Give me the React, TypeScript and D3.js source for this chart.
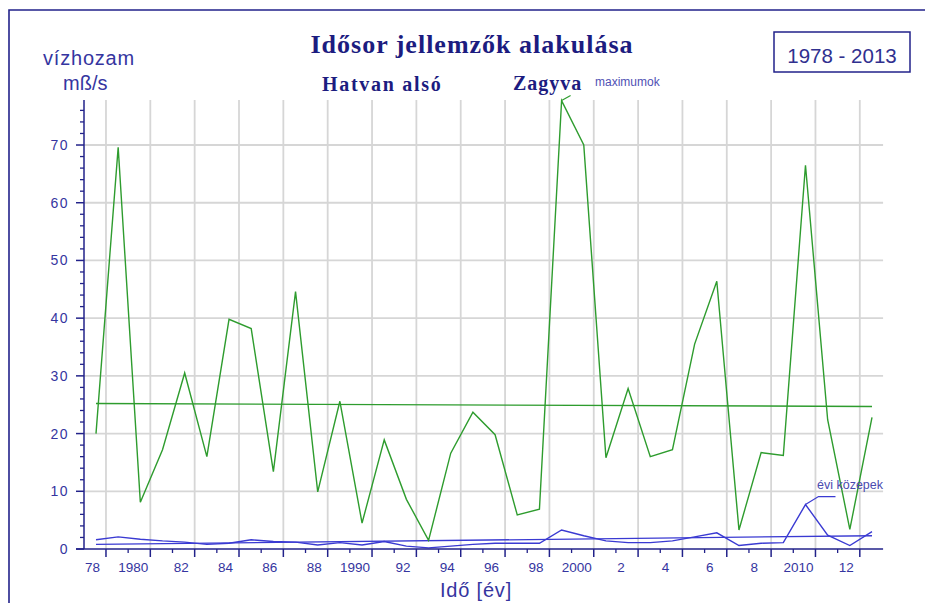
import * as d3 from "d3"

// Zagyva, Hatvan alsó – yearly values 1978-2013
const years = d3.range(1978, 2014)
const maxima = [
  20, 69.6, 8.1, 17.2, 30.5, 16, 39.8, 38.2, 13.4, 44.6, 9.9, 25.6, 4.5, 18.9,
  8.6, 1.5, 16.6, 23.7, 19.8, 5.9, 6.9, 77.7, 70, 15.8, 27.8, 16, 17.2, 35.5,
  46.4, 3.3, 16.7, 16.2, 66.5, 22.4, 3.4, 22.8,
]
const means = [
  1.6, 2.1, 1.7, 1.4, 1.2, 0.8, 1.0, 1.6, 1.3, 1.2, 0.7, 1.1, 0.7, 1.3, 0.5,
  0.2, 0.5, 0.8, 1.0, 1.0, 1.0, 3.3, 2.3, 1.4, 1.1, 1.1, 1.4, 2.1, 2.8, 0.6,
  1.0, 1.1, 7.7, 2.4, 0.6, 3.0,
]
const maxTrend = [25.2, 24.7]
const meanTrend = [0.8, 2.3]
const yTicks = [0, 10, 20, 30, 40, 50, 60, 70]
const xTickYears = d3.range(1978, 2013, 2)
const xTickLabels = [
  "78", "1980", "82", "84", "86", "88", "1990", "92", "94", "96", "98",
  "2000", "2", "4", "6", "8", "2010", "12",
]

const NAVY = "#22228a"
const TXT = "#3535a0"
const GREEN = "#2e9c2e"
const BLUE = "#3a3ad2"
const GRID = "#d6d6d6"

const App = () => {
  const x = d3.scaleLinear().domain([1978, 2013]).range([96, 872])
  const y = d3.scaleLinear().domain([0, 77.8]).range([549, 100])
  const xEnd = x(2013.5)
  const yTop = y(77.8)

  const line = d3
    .line<number>()
    .x((_, i) => x(years[i]))
    .y((d) => y(d))

  const gridX = xTickYears.map((yr) => x(yr + 0.45))
  const minorX = d3.range(1979, 2012, 2).map((yr) => x(yr + 0.45))
  const minorY = d3.range(0, 78, 2).filter((v) => v % 10 !== 0)

  const peakMax = [x(1999), y(77.7)]
  const peakMean = [x(2010), y(7.7)]

  return (
    <svg
      width={925}
      height={603}
      style={{ position: "absolute", left: 0, top: 0, background: "#fff" }}
      fontFamily="'Liberation Sans', Arial, sans-serif"
    >
      <path d="M9,603 V10 H925" fill="none" stroke={NAVY} strokeWidth={1.6} />

      {/* grid */}
      {gridX.map((gx, i) => (
        <line key={"gx" + i} x1={gx} x2={gx} y1={yTop} y2={y(0)} stroke={GRID} strokeWidth={1.8} />
      ))}
      {yTicks.slice(1).map((v) => (
        <line key={"gy" + v} x1={x.range()[0] - 12} x2={xEnd} y1={y(v)} y2={y(v)} stroke={GRID} strokeWidth={1.8} />
      ))}

      {/* trend lines */}
      <line x1={x(1978)} x2={x(2013)} y1={y(maxTrend[0])} y2={y(maxTrend[1])} stroke={GREEN} strokeWidth={1.4} />
      <line x1={x(1978)} x2={x(2013)} y1={y(meanTrend[0])} y2={y(meanTrend[1])} stroke={BLUE} strokeWidth={1.3} />

      {/* series */}
      <path d={line(maxima) ?? ""} fill="none" stroke={GREEN} strokeWidth={1.4} />
      <path d={line(means) ?? ""} fill="none" stroke={BLUE} strokeWidth={1.4} />

      {/* y axis */}
      <line x1={84} x2={84} y1={yTop} y2={y(0)} stroke={NAVY} strokeWidth={1.5} />
      {yTicks.map((v) => (
        <g key={"yt" + v}>
          <line x1={76} x2={84} y1={y(v)} y2={y(v)} stroke={NAVY} strokeWidth={1.5} />
          <text x={69} y={y(v)} dy="0.36em" textAnchor="end" fontSize={14} letterSpacing={1.5} fill={TXT}>
            {v}
          </text>
        </g>
      ))}
      {minorY.map((v) => (
        <line key={"ym" + v} x1={80} x2={84} y1={y(v)} y2={y(v)} stroke={NAVY} strokeWidth={1.3} />
      ))}

      {/* x axis */}
      <line x1={76} x2={xEnd} y1={y(0)} y2={y(0)} stroke={NAVY} strokeWidth={1.5} />
      {gridX.map((gx, i) => (
        <line key={"xt" + i} x1={gx} x2={gx} y1={y(0)} y2={y(0) + 8} stroke={NAVY} strokeWidth={1.5} />
      ))}
      {minorX.map((gx, i) => (
        <line key={"xm" + i} x1={gx} x2={gx} y1={y(0)} y2={y(0) + 4} stroke={NAVY} strokeWidth={1.3} />
      ))}
      {xTickYears.map((yr, i) => {
        const lbl = xTickLabels[i]
        const off = lbl.length === 2 ? -3.5 : -7
        return (
          <text key={"xl" + yr} x={x(yr) + off} y={571.5} textAnchor="middle" fontSize={13.5} fill={TXT}>
            {lbl}
          </text>
        )
      })}

      {/* axis titles */}
      <text x={43} y={65} fontSize={20} letterSpacing={0.8} fill={TXT}>vízhozam</text>
      <text x={63} y={90} fontSize={20} fill={TXT}>mß/s</text>
      <text x={476} y={597} textAnchor="middle" fontSize={20} letterSpacing={0.8} fill={TXT}>Idő [év]</text>

      {/* titles */}
      <g fontFamily="'Liberation Serif', 'Times New Roman', serif" fontWeight="bold" fill="#1c1c80">
        <text x={472} y={53} textAnchor="middle" fontSize={26} letterSpacing={1}>
          Idősor jellemzők alakulása
        </text>
        <text x={322} y={91} fontSize={20} letterSpacing={1.7}>Hatvan alsó</text>
        <text x={513} y={90} fontSize={20} letterSpacing={1}>Zagyva</text>
      </g>

      {/* year range box */}
      <rect x={774} y={32} width={136} height={40} fill="none" stroke={NAVY} strokeWidth={1.5} />
      <text x={842} y={63} textAnchor="middle" fontSize={20.5} fill="#30308f">1978 - 2013</text>

      {/* annotations */}
      <path
        d={`M${peakMax[0]},${peakMax[1]} L${peakMax[0] + 9},${peakMax[1] - 5}`}
        stroke={GREEN}
        strokeWidth={1.2}
        fill="none"
      />
      <text x={595} y={86} fontSize={12} fill="#5050b4">maximumok</text>
      <path
        d={`M${peakMean[0]},${peakMean[1]} L${peakMean[0] + 13},${peakMean[1] - 8} H${peakMean[0] + 30}`}
        stroke={BLUE}
        strokeWidth={1.2}
        fill="none"
      />
      <text x={817} y={489} fontSize={12.5} fill="#4a4ab0">évi közepek</text>
    </svg>
  )
}

export default App
